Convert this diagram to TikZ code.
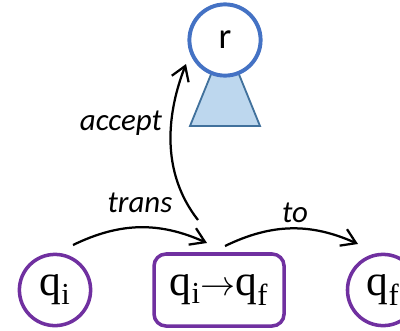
\documentclass[tikz,border=0pt]{standalone}
\usepackage{fontspec}
\setmainfont{Carlito}
\newfontfamily\qfont{Liberation Serif}
\usetikzlibrary{arrows.meta, shapes.geometric, positioning}
\definecolor{rootblue}{HTML}{4472C4}
\definecolor{treefill}{HTML}{BDD7EE}
\definecolor{treeline}{HTML}{41719C}
\definecolor{qpurple}{HTML}{7030A0}
\tikzstyle{state} = [
    circle,
    minimum size=1.78cm,
    inner sep=0pt,
    draw=qpurple,
    line width=2.5pt,
    fill=white,
    font=\qfont\fontsize{31}{33}\selectfont
]
\tikzstyle{transbox} = [
    rectangle,
    rounded corners=0.3cm,
    minimum width=3.25cm,
    minimum height=1.8cm,
    draw=qpurple,
    line width=2.5pt,
    font=\qfont\fontsize{31}{33}\selectfont
]
\tikzstyle{root} = [
    circle,
    minimum size=1.78cm,
    inner sep=0pt,
    draw=rootblue,
    line width=2.8pt,
    fill=white,
    font=\fontsize{26}{28}\selectfont
]
\tikzstyle{subtree} = [fill=treefill, draw=treeline, line width=1.3pt]
\tikzstyle{edgetext} = [font=\itshape\fontsize{22}{24}\selectfont]
\tikzstyle{arrow} = [line width=1.6pt, -{Straight Barb[length=3.5mm,width=4.5mm]}]

\begin{document}
\begin{tikzpicture}[x=0.025cm, y=-0.025cm, node distance=4.1cm]
\useasboundingbox (0,0) rectangle (400,330);

% bottom row
\node (qi) [state] at (55,290) {q\textsubscript{i}};
\node (step) [transbox, right of=qi] {q\textsubscript{i}$\rightarrow$q\textsubscript{f}};
\node (qf) [state, right of=step] {q\textsubscript{f}};

% root with its subtree
\coordinate (rtop) at (225,40);
\draw [subtree] (rtop) -- (190,126) -- (260,126) -- cycle;
\node (r) [root] at (rtop) {r};

% arrow ends
\coordinate (transA) at (73,245);
\coordinate (transB) at (207,243);
\coordinate (toA) at (225,246);
\coordinate (toB) at (358,244);
\coordinate (accA) at (198,220);
\coordinate (accB) at (186,64);

\draw [arrow] (transA) to[bend left=25] (transB);
\draw [arrow] (toA) to[bend left=25] (toB);
\draw [arrow] (accA) .. controls (155,165) and (172,100) .. (accB);

\node (translbl) [edgetext] at (140,203) {trans};
\node (tolbl) [edgetext] at (295,213) {to};
\node (acclbl) [edgetext] at (121,123) {accept};

\end{tikzpicture}
\end{document}
